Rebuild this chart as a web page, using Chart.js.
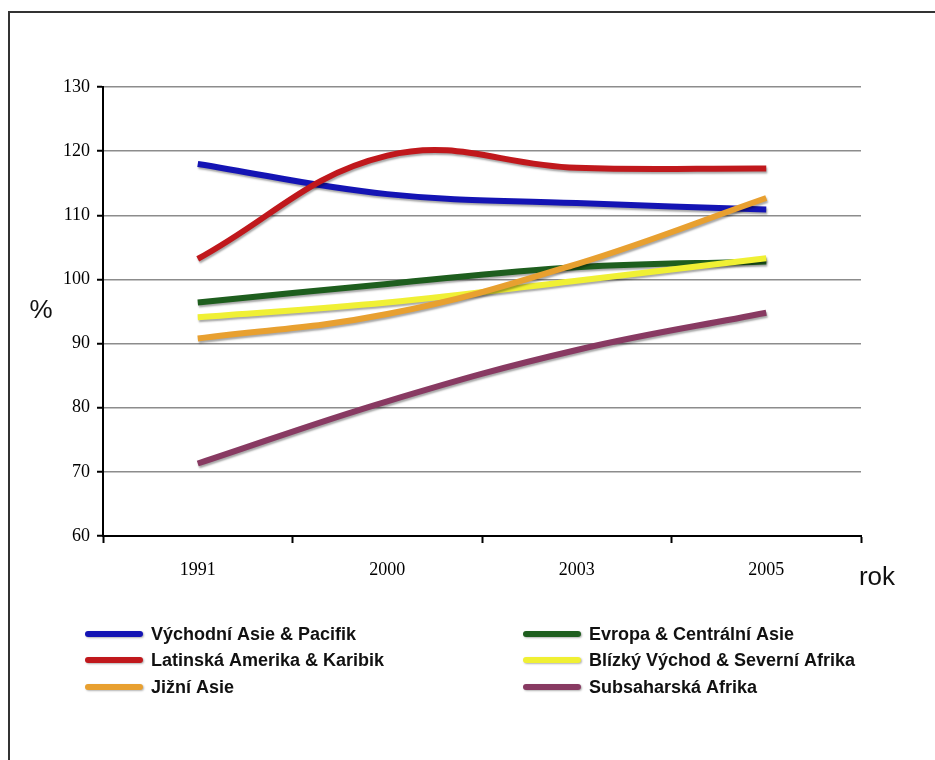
<!DOCTYPE html>
<html>
<head>
<meta charset="utf-8">
<title>rok / %</title>
<script src="https://cdn.jsdelivr.net/npm/chart.js"></script>
<style>
  html, body { margin: 0; padding: 0; background: #fff; }
  #wrap { position: relative; width: 935px; height: 760px; }
</style>
</head>
<body>
<div id="wrap"><canvas id="chart" width="935" height="760"></canvas></div>
<script>
// years on the x axis
var years = ['1991', '2000', '2003', '2005'];

// series values (%)
var vychodniAsie = [118.0, 113.3, 111.9, 110.9];
var evropa = [96.4, 99.3, 101.9, 102.8];
var latinskaAmerika = [103.2, 119.3, 117.4, 117.3];
var blizkyVychod = [94.1, 96.4, 99.8, 103.3];
var jizniAsie = [90.8, 94.6, 102.4, 112.7];
var subsaharskaAfrika = [71.3, 81.0, 89.0, 94.8];

var seriesNames = [
    'Východní Asie & Pacifik',
    'Evropa & Centrální Asie',
    'Latinská Amerika & Karibik',
    'Blízký Východ & Severní Afrika',
    'Jižní Asie',
    'Subsaharská Afrika'
];
var seriesValues = [vychodniAsie, evropa, latinskaAmerika, blizkyVychod, jizniAsie, subsaharskaAfrika];
var seriesColors = ['#1414b4', '#1e5e1e', '#c0181c', '#f0f034', '#e8a030', '#883a62'];

var yMin = 60, yMax = 130, yStep = 10;

var datasets = seriesNames.map(function (name, i) {
    return {
        label: name,
        data: seriesValues[i],
        borderColor: seriesColors[i],
        backgroundColor: seriesColors[i],
        borderWidth: 6,
        pointRadius: 0,
        tension: 0.4,
        fill: false,
        // later series sit on top, like the original
        order: seriesNames.length - i
    };
});

// soft drop shadow under every line
var shadowPlugin = {
    id: 'shadow',
    beforeDatasetDraw: function (chart) {
        var ctx = chart.ctx;
        ctx.save();
        ctx.shadowColor = 'rgba(0,0,0,0.35)';
        ctx.shadowOffsetX = 1;
        ctx.shadowOffsetY = 2;
        ctx.shadowBlur = 2;
    },
    afterDatasetDraw: function (chart) {
        chart.ctx.restore();
    }
};

// frame, axis titles and the two-column legend
var decorPlugin = {
    id: 'decor',
    beforeDraw: function (chart) {
        var ctx = chart.ctx;
        ctx.save();
        ctx.fillStyle = '#fff';
        ctx.fillRect(0, 0, chart.width, chart.height);
        ctx.strokeStyle = '#333';
        ctx.lineWidth = 2;
        ctx.beginPath();
        ctx.moveTo(9, chart.height);
        ctx.lineTo(9, 12);
        ctx.lineTo(chart.width, 12);
        ctx.stroke();
        ctx.restore();
    },
    afterDraw: function (chart) {
        var ctx = chart.ctx;
        ctx.save();
        ctx.fillStyle = '#111';
        ctx.textBaseline = 'middle';
        ctx.textAlign = 'center';
        ctx.font = '26px "Liberation Sans", Arial, sans-serif';
        ctx.fillText('%', 41, 311);
        ctx.fillText('rok', 877, 578);

        // legend: row-wise, two columns
        var colLine = [85, 523], lineLen = 58, textGap = 8;
        var rowY = [634, 660, 687];
        ctx.textAlign = 'left';
        ctx.font = 'bold 18px "Liberation Sans", Arial, sans-serif';
        chart.data.datasets.forEach(function (ds, i) {
            var col = i % 2, row = Math.floor(i / 2);
            var x = colLine[col], y = rowY[row];
            ctx.save();
            ctx.shadowColor = 'rgba(0,0,0,0.3)';
            ctx.shadowOffsetX = 1;
            ctx.shadowOffsetY = 1;
            ctx.shadowBlur = 2;
            ctx.strokeStyle = ds.borderColor;
            ctx.lineWidth = 6;
            ctx.lineCap = 'round';
            ctx.beginPath();
            ctx.moveTo(x + 3, y);
            ctx.lineTo(x + lineLen - 3, y);
            ctx.stroke();
            ctx.restore();
            ctx.fillStyle = '#111';
            ctx.fillText(ds.label, x + lineLen + textGap, y + 1);
        });
        ctx.restore();
    }
};

new Chart(document.getElementById('chart'), {
    type: 'line',
    data: { labels: years, datasets: datasets },
    plugins: [decorPlugin, shadowPlugin],
    options: {
        responsive: false,
        animation: false,
        events: [],
        layout: { padding: { left: 0, top: 87, right: 74, bottom: 0 } },
        plugins: {
            legend: { display: false },
            tooltip: { enabled: false },
            title: { display: false }
        },
        scales: {
            x: {
                offset: true,
                afterFit: function (scale) { scale.height = 224; },
                grid: {
                    offset: true,
                    drawOnChartArea: false,
                    tickLength: 7,
                    tickColor: '#000',
                    tickWidth: 2
                },
                border: { color: '#000', width: 2 },
                ticks: {
                    padding: 16,
                    color: '#000',
                    font: { family: '"Liberation Serif", "Times New Roman", serif', size: 18 }
                }
            },
            y: {
                min: yMin,
                max: yMax,
                afterFit: function (scale) { scale.width = 103; },
                grid: {
                    color: '#8c8c8c',
                    lineWidth: 1.5,
                    tickLength: 6,
                    tickColor: '#000',
                    tickWidth: 2
                },
                border: { color: '#000', width: 2 },
                ticks: {
                    stepSize: yStep,
                    padding: 7,
                    color: '#000',
                    font: { family: '"Liberation Serif", "Times New Roman", serif', size: 18 }
                }
            }
        }
    }
});
</script>
</body>
</html>
